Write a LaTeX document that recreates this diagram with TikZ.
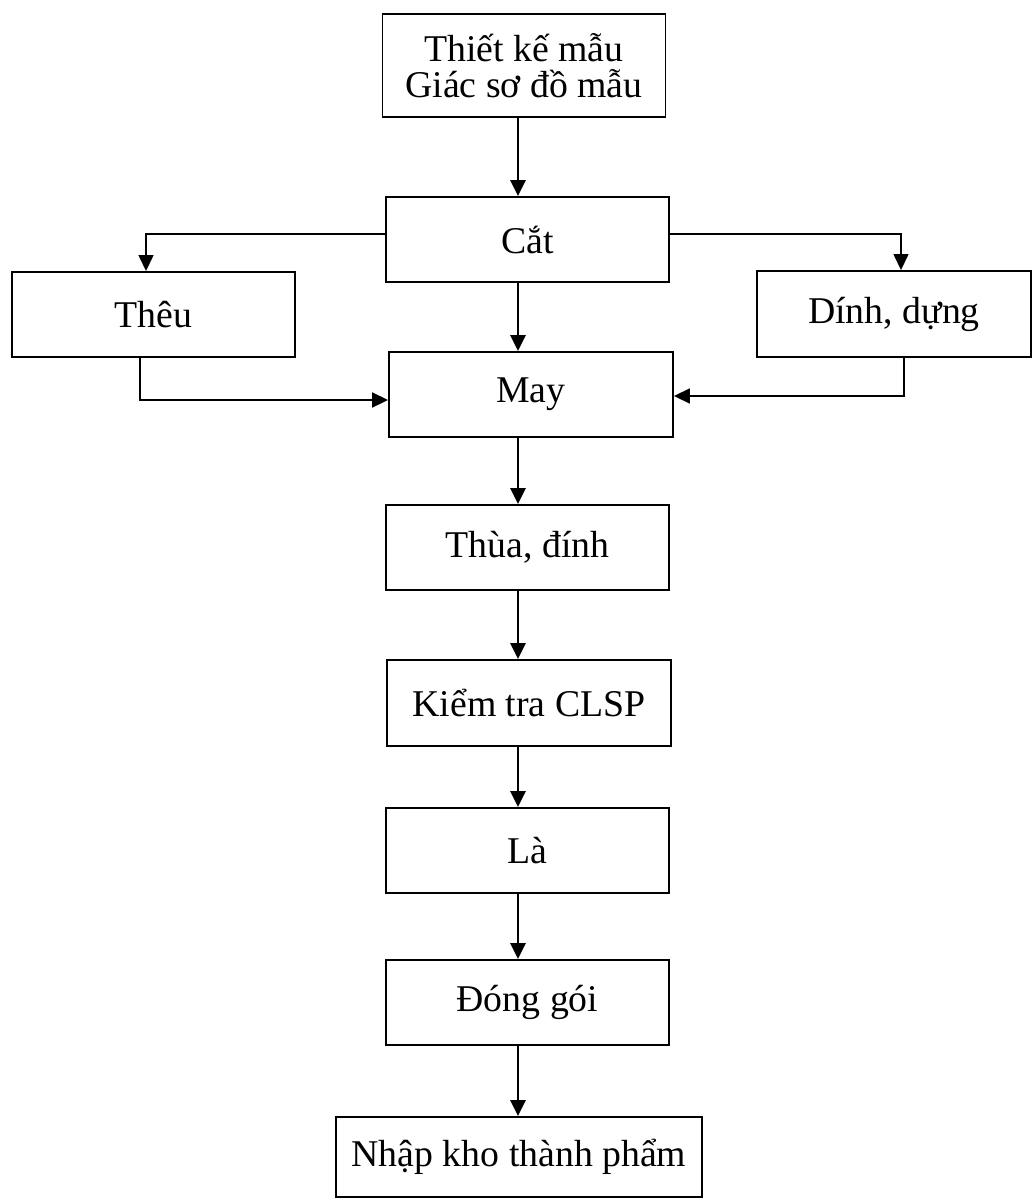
\documentclass[tikz,border=0pt]{standalone}
\usepackage{fontspec}
\setmainfont{Liberation Serif}
\usetikzlibrary{arrows.meta}

\begin{document}
\begin{tikzpicture}[x=0.02cm, y=-0.02cm,
    stepbox/.style={draw, line width=1.1pt, minimum width=5.66cm, minimum height=1.7cm,
        inner sep=0pt, align=center, font=\fontsize{21.5}{20.5}\selectfont},
    flow/.style={-{Triangle[length=0.32cm,width=0.3cm]}, line width=1.6pt},
    branch/.style={-{Triangle[length=0.32cm,width=0.3cm]}, line width=0.8pt}]

% Page frame
\useasboundingbox (0,0) rectangle (1032,1198);

% Main line of steps
\node[stepbox, minimum height=2.06cm] (design) at (524,65.5) {Thiết kế mẫu\\Giác sơ đồ mẫu};
\node[stepbox] (cut) at (527.5,239.5) {Cắt};
\node[stepbox, minimum width=5.68cm] (sew) at (531,394.5) {May};
\node[stepbox] (button) at (527.5,547.5) {Thùa, đính};
\node[stepbox, minimum width=5.68cm, minimum height=1.72cm] (check) at (529,703) {Kiểm tra CLSP};
\node[stepbox] (iron) at (527.5,850.5) {Là};
\node[stepbox] (pack) at (527.5,1002.5) {Đóng gói};
\node[stepbox, minimum width=7.32cm, minimum height=1.6cm] (store) at (519,1157) {Nhập kho thành phẩm};

% Side steps
\node[stepbox] (embroid) at (153.5,314.5) {Thêu};
\node[stepbox, minimum width=5.48cm, minimum height=1.72cm] (fuse) at (894,314) {Dính, dựng};

% Vertical arrows down the middle
\coordinate (spine) at (518,0);
\foreach \a/\b in {design/cut, cut/sew, sew/button, button/check, check/iron, iron/pack, pack/store} {
    \draw[flow] (\a.south -| spine) -- (\b.north -| spine);
}

% Branches out of Cat and back into May
\draw[branch] ([yshift=0.11cm]cut.west) -| ([xshift=-0.15cm]embroid.north);
\draw[branch] ([yshift=0.11cm]cut.east) -| ([xshift=0.14cm]fuse.north);
\draw[branch, line width=1pt] ([xshift=-0.27cm]embroid.south) |- ([yshift=-0.11cm]sew.west);
\draw[branch, line width=1pt] ([xshift=0.2cm]fuse.south) |- ([yshift=-0.03cm]sew.east);

\end{tikzpicture}
\end{document}
